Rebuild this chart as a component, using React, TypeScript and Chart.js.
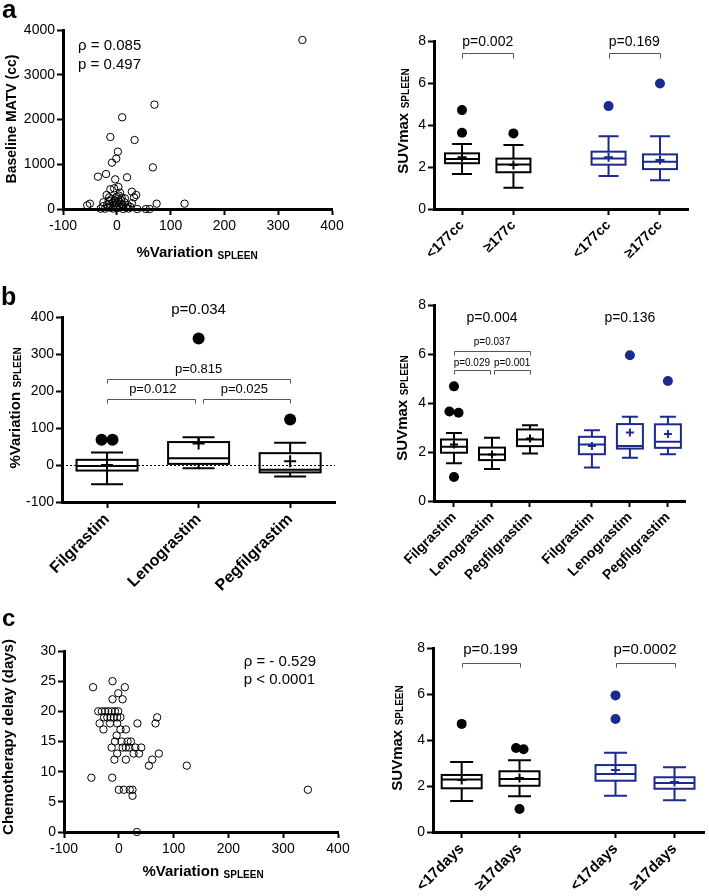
import React, { useEffect, useRef } from 'react';
import { Chart, registerables } from 'chart.js';
Chart.register(...registerables);

const FONT = "'Liberation Sans', Arial, Helvetica, sans-serif";
const BLUE = '#1b2a8e';
const GRAY = '#555555';

// ---------- Panel a, left: scatter %Variation vs baseline MATV ----------
const aVarX = [345, 70, 10, -12, 33, 2, -1, -9, 67, -35, -20, 19, -3, 3, -12, -5, 6, 28, 36, 32, -19, 15, 0,
  -50, -55, -30, -22, 74, 126, 38, 54, 61, 12,
  -25, -18, -15, -10, -8, -6, -4, -2, 0, 1, 3, 5, 7, 8, 10, 12, 14, 17, 20, 22, 25, -12, -16, -7, -3, 4, 9, -26, 28, -14];
const aMatvY = [3777, 2332, 2049, 1609, 1542, 1281, 1125, 1035, 931, 723, 782, 708, 663, 492, 440, 462, 365, 387, 313, 261, 313, 238, 275,
  119, 82, 7, 7, 119, 119, 0, 0, 0, 0,
  150, 100, 180, 220, 140, 90, 190, 60, 130, 20, 170, 80, 40, 200, 110, 60, 150, 30, 90, 10, 50, 30, 50, 10, 240, 300, 250, 60, 130, 260];

// ---------- Panel a, right: SUVmax by baseline MATV ----------
const aCats = ['<177cc', '≥177c', '<177cc', '≥177cc'];
const aPos = [1, 2, 3.85, 4.85];
const aMin = [1.67, 1.01, 1.57, 1.37];
const aQ1 = [2.18, 1.75, 2.11, 1.9];
const aMed = [2.38, 2.12, 2.4, 2.25];
const aQ3 = [2.65, 2.4, 2.73, 2.6];
const aMax = [3.1, 3.05, 3.46, 3.46];
const aMean = [2.47, 2.1, 2.47, 2.33];
const aOutGroup = [0, 0, 1, 2, 3];
const aOutDx = [0, 0, 0, 0, 0];
const aOutY = [4.71, 3.63, 3.6, 4.9, 5.98];
const aBlue = [false, false, true, true];

// ---------- Panel b, left: %Variation by G-CSF ----------
const bCats = ['Filgrastim', 'Lenograstim', 'Pegfilgrastim'];
const bPos = [1, 2, 3];
const bMin = [-52, -9, -31];
const bQ1 = [-15, 3, -20];
const bMed = [-3, 18, -13];
const bQ3 = [14, 62, 32];
const bMax = [34, 75, 60];
const bMean = [0, 58, 10];
const bOutGroup = [0, 0, 1, 2];
const bOutDx = [-0.06, 0.06, 0, 0];
const bOutY = [68, 68, 342, 123];

// ---------- Panel b, right: SUVmax by G-CSF ----------
const bRCats = ['Filgrastim', 'Lenograstim', 'Pegfilgrastim', 'Filgrastim', 'Lenograstim', 'Pegfilgrastim'];
const bRPos = [1, 2, 3, 4.63, 5.63, 6.63];
const bRMin = [1.54, 1.31, 1.94, 1.37, 1.77, 1.91];
const bRQ1 = [1.97, 1.67, 2.24, 1.91, 2.14, 2.17];
const bRMed = [2.21, 1.9, 2.51, 2.31, 2.25, 2.42];
const bRQ3 = [2.51, 2.18, 2.92, 2.62, 3.14, 3.13];
const bRMax = [2.78, 2.58, 3.09, 2.89, 3.44, 3.44];
const bRMean = [2.31, 1.9, 2.55, 2.25, 2.8, 2.73];
const bROutGroup = [0, 0, 0, 0, 4, 5];
const bROutDx = [0, -0.12, 0.12, 0, 0, 0];
const bROutY = [4.68, 3.65, 3.6, 0.98, 5.95, 4.9];
const bRBlue = [false, false, false, true, true, true];

// ---------- Panel c, left: scatter %Variation vs chemotherapy delay ----------
const cVarX = [-47, -11.5, 11, -1, -11.5, 7,
  -37.6, -31, -25, -19, -13, -7, -1,
  -27, -21, -15, -9, -3, 3, 70,
  -35, -16, -3, 34, 67,
  -28, 3, 13,
  -4,
  -7, 5, 16, 22,
  -13, 7, 13, 19, 30, 41,
  -3, 27, 37, 73,
  -8, 13, 61,
  55, 124,
  -50, -12,
  0, 9, 20, 25, 345,
  25,
  33];
const cDelayY = [24, 25, 24, 23, 22, 22,
  20, 20, 20, 20, 20, 20, 20,
  19, 19, 19, 19, 19, 19, 19,
  18, 18, 18, 18, 18,
  17, 17, 17,
  16,
  15, 15, 15, 15,
  14, 14, 14, 14, 14, 14,
  13, 13, 13, 13,
  12, 12, 12,
  11, 11,
  9, 9,
  7, 7, 7, 7, 7,
  6,
  0];

// ---------- Panel c, right: SUVmax by chemotherapy delay ----------
const cCats = ['<17days', '≥17days', '<17days', '≥17days'];
const cPos = [1, 2, 3.66, 4.68];
const cMin = [1.35, 1.55, 1.58, 1.38];
const cQ1 = [1.9, 2.01, 2.23, 1.88];
const cMed = [2.28, 2.3, 2.52, 2.13];
const cQ3 = [2.48, 2.64, 2.91, 2.38];
const cMax = [3.04, 3.12, 3.45, 2.81];
const cMean = [2.26, 2.35, 2.7, 2.17];
const cOutGroup = [0, 1, 1, 1, 2, 2];
const cOutDx = [0, -0.06, 0.07, 0, 0, 0];
const cOutY = [4.7, 3.65, 3.6, 1.0, 5.94, 4.91];
const cBlue = [false, false, true, true];

// ---------------------------------------------------------------------
function drawTitle(ctx: any, t: any) {
  ctx.save();
  ctx.translate(t.x, t.y);
  if (t.rot) ctx.rotate(-Math.PI / 2);
  ctx.fillStyle = '#000';
  ctx.textBaseline = 'alphabetic';
  ctx.textAlign = 'left';
  ctx.font = `bold ${t.size}px ${FONT}`;
  const w1 = ctx.measureText(t.main).width;
  let w2 = 0;
  const gap = t.sub ? t.size * 0.3 : 0;
  if (t.sub) {
    ctx.font = `bold ${t.subSize}px ${FONT}`;
    w2 = ctx.measureText(t.sub).width;
  }
  const start = -(w1 + gap + w2) / 2;
  ctx.font = `bold ${t.size}px ${FONT}`;
  ctx.fillText(t.main, start, 0);
  if (t.sub) {
    ctx.font = `bold ${t.subSize}px ${FONT}`;
    ctx.fillText(t.sub, start + w1 + gap, t.subDrop || 0);
  }
  ctx.restore();
}

const decor = {
  id: 'decor',
  afterDatasetsDraw(chart: any, _a: any, o: any) {
    const ctx = chart.ctx;
    const xs = chart.scales.x;
    const ys = chart.scales.y;
    const X = (v: number) => xs.getPixelForValue(v);
    const Y = (v: number) => ys.getPixelForValue(v);
    const ca = chart.chartArea;
    ctx.save();
    if (o.zeroLine) {
      ctx.strokeStyle = '#000';
      ctx.lineWidth = 1;
      ctx.setLineDash([2, 2]);
      const y0 = Math.round(Y(0)) + 0.5;
      ctx.beginPath();
      ctx.moveTo(ca.left, y0);
      ctx.lineTo(ca.right, y0);
      ctx.stroke();
      ctx.setLineDash([]);
    }
    (o.boxes || []).forEach((b: any) => {
      const cx = X(b.x);
      const hw = o.boxW / 2;
      const cw = o.capW / 2;
      const pw = o.plus / 2;
      ctx.strokeStyle = b.color;
      ctx.lineWidth = 2;
      ctx.beginPath();
      ctx.moveTo(cx, Y(b.max)); ctx.lineTo(cx, Y(b.q3));
      ctx.moveTo(cx, Y(b.q1)); ctx.lineTo(cx, Y(b.min));
      ctx.moveTo(cx - cw, Y(b.max)); ctx.lineTo(cx + cw, Y(b.max));
      ctx.moveTo(cx - cw, Y(b.min)); ctx.lineTo(cx + cw, Y(b.min));
      ctx.moveTo(cx - hw, Y(b.med)); ctx.lineTo(cx + hw, Y(b.med));
      ctx.stroke();
      ctx.strokeRect(cx - hw, Y(b.q3), 2 * hw, Y(b.q1) - Y(b.q3));
      ctx.beginPath();
      ctx.moveTo(cx - pw, Y(b.mean)); ctx.lineTo(cx + pw, Y(b.mean));
      ctx.moveTo(cx, Y(b.mean) - pw); ctx.lineTo(cx, Y(b.mean) + pw);
      ctx.stroke();
    });
    (o.brackets || []).forEach((br: any) => {
      ctx.strokeStyle = GRAY;
      ctx.lineWidth = 1;
      const x1 = Math.round(X(br.x1)) + 0.5;
      const x2 = Math.round(X(br.x2)) + 0.5;
      const y = Math.round(Y(br.y)) + 0.5;
      const yd = Math.round(Y(br.drop)) + 0.5;
      ctx.beginPath();
      ctx.moveTo(x1, yd); ctx.lineTo(x1, y); ctx.lineTo(x2, y); ctx.lineTo(x2, yd);
      ctx.stroke();
    });
    (o.texts || []).forEach((t: any) => {
      ctx.fillStyle = '#000';
      ctx.font = `${t.size}px ${FONT}`;
      ctx.textAlign = t.align || 'center';
      ctx.textBaseline = 'middle';
      ctx.fillText(t.text, X(t.x), Y(t.y));
    });
    (o.titles || []).forEach((t: any) => drawTitle(ctx, t));
    if (o.label) {
      ctx.fillStyle = '#000';
      ctx.font = `bold ${o.label.size}px ${FONT}`;
      ctx.textAlign = 'left';
      ctx.textBaseline = 'alphabetic';
      ctx.fillText(o.label.text, o.label.x, o.label.y);
    }
    ctx.restore();
  },
};

const tickFont = { family: FONT, size: 14 };

function axis(extra: any, fitKey: 'width' | 'height', fitVal: number) {
  return {
    type: 'linear',
    grid: { display: true, drawOnChartArea: false, drawTicks: true, tickLength: 6, tickWidth: 2, tickColor: '#000' },
    border: { display: true, color: '#000', width: 3 },
    afterFit: (s: any) => { s[fitKey] = fitVal; },
    ...extra,
    ticks: { color: '#000', font: tickFont, padding: 2, callback: (v: any) => String(v), ...(extra.ticks || {}) },
  };
}

type Frame = { w: number; h: number; L: number; T: number; R: number; B: number };

function baseOptions(f: Frame, xAxis: any, yAxis: any, decorOpts: any) {
  return {
    responsive: false,
    animation: false,
    devicePixelRatio: 1,
    layout: { padding: { left: 0, top: f.T, right: f.w - f.R, bottom: 0 } },
    scales: {
      x: axis(xAxis, 'height', f.h - f.B),
      y: axis(yAxis, 'width', f.L),
    },
    plugins: { legend: { display: false }, tooltip: { enabled: false }, decor: decorOpts },
  };
}

function boxes(pos: number[], mn: number[], q1: number[], md: number[], q3: number[], mx: number[], mean: number[], blue: boolean[]) {
  return pos.map((x, i) => ({ x, min: mn[i], q1: q1[i], med: md[i], q3: q3[i], max: mx[i], mean: mean[i], color: blue[i] ? BLUE : '#000' }));
}

function outlierDataset(pos: number[], group: number[], dx: number[], ys: number[], blue: boolean[], r: number) {
  return {
    data: ys.map((y, i) => ({ x: pos[group[i]] + dx[i], y })),
    pointRadius: r,
    pointBorderWidth: 0,
    pointBackgroundColor: group.map((g) => (blue[g] ? BLUE : '#000')),
    pointBorderColor: group.map((g) => (blue[g] ? BLUE : '#000')),
    showLine: false,
    clip: false,
  };
}

function catX(pos: number[], cats: string[], min: number, max: number, size: number) {
  return {
    min, max,
    afterBuildTicks: (s: any) => { s.ticks = pos.map((v) => ({ value: v })); },
    ticks: {
      autoSkip: false, minRotation: 45, maxRotation: 45, padding: 2,
      font: { family: FONT, size, weight: 'bold' },
      callback: (_v: any, i: number) => cats[i],
    },
  };
}

const suvY = { min: 0, max: 8, ticks: { stepSize: 2 } };

const panels: any[] = [
  // a left
  (() => {
    const f = { w: 360, h: 270, L: 63, T: 30, R: 332, B: 209 };
    return {
      left: 0, top: 0, f,
      config: {
        type: 'scatter',
        data: { datasets: [{ data: aVarX.map((x, i) => ({ x, y: aMatvY[i] })), pointRadius: 3.7, pointBorderWidth: 1, pointBorderColor: '#000', pointBackgroundColor: 'rgba(0,0,0,0)', clip: false }] },
        options: baseOptions(f, { min: -100, max: 400, ticks: { stepSize: 100, padding: 3 } }, { min: 0, max: 4000, ticks: { stepSize: 1000 } }, {
          texts: [
            { text: 'ρ = 0.085', x: -72, y: 3640, size: 15, align: 'left' },
            { text: 'p = 0.497', x: -72, y: 3220, size: 15, align: 'left' },
          ],
          titles: [
            { main: 'Baseline MATV (cc)', x: 16, y: 119, rot: true, size: 14 },
            { main: '%Variation', sub: 'SPLEEN', x: 197, y: 257, size: 15, subSize: 10, subDrop: 2 },
          ],
          label: { text: 'a', x: 2, y: 18, size: 26 },
        }),
      },
    };
  })(),
  // a right
  (() => {
    const f = { w: 349, h: 290, L: 74, T: 41, R: 328, B: 209 };
    return {
      left: 360, top: 0, f,
      config: {
        type: 'scatter',
        data: { datasets: [outlierDataset(aPos, aOutGroup, aOutDx, aOutY, aBlue, 5)] },
        options: baseOptions(f, catX(aPos, aCats, 0.455, 5.395, 14), suvY, {
          boxes: boxes(aPos, aMin, aQ1, aMed, aQ3, aMax, aMean, aBlue),
          boxW: 34, capW: 20, plus: 9,
          brackets: [
            { x1: 1, x2: 2, y: 7.44, drop: 7.2 },
            { x1: 3.85, x2: 4.85, y: 7.44, drop: 7.2 },
          ],
          texts: [
            { text: 'p=0.002', x: 1.5, y: 7.93, size: 14 },
            { text: 'p=0.169', x: 4.35, y: 7.93, size: 14 },
          ],
          titles: [{ main: 'SUVmax', sub: 'SPLEEN', x: 48, y: 121, rot: true, size: 15, subSize: 10, subDrop: 1 }],
        }),
      },
    };
  })(),
  // b left
  (() => {
    const f = { w: 360, h: 330, L: 62, T: 47, R: 335, B: 232 };
    return {
      left: 0, top: 270, f,
      config: {
        type: 'scatter',
        data: { datasets: [outlierDataset(bPos, bOutGroup, bOutDx, bOutY, [false, false, false], 6)] },
        options: baseOptions(f, catX(bPos, bCats, 0.508, 3.49, 16), { min: -100, max: 400, ticks: { stepSize: 100 } }, {
          zeroLine: true,
          boxes: boxes(bPos, bMin, bQ1, bMed, bQ3, bMax, bMean, [false, false, false]),
          boxW: 61, capW: 32, plus: 12,
          brackets: [
            { x1: 1, x2: 3, y: 233, drop: 221 },
            { x1: 1, x2: 1.96, y: 178, drop: 167 },
            { x1: 2.05, x2: 3, y: 178, drop: 167 },
          ],
          texts: [
            { text: 'p=0.034', x: 2, y: 419, size: 15 },
            { text: 'p=0.815', x: 2, y: 257, size: 13 },
            { text: 'p=0.012', x: 1.5, y: 203, size: 13 },
            { text: 'p=0.025', x: 2.5, y: 203, size: 13 },
          ],
          titles: [{ main: '%Variation', sub: 'SPLEEN', x: 20, y: 138, rot: true, size: 15, subSize: 10, subDrop: 1 }],
          label: { text: 'b', x: 1, y: 35, size: 25 },
        }),
      },
    };
  })(),
  // b right
  (() => {
    const f = { w: 349, h: 310, L: 74, T: 15, R: 325, B: 211 };
    return {
      left: 360, top: 290, f,
      config: {
        type: 'scatter',
        data: { datasets: [outlierDataset(bRPos, bROutGroup, bROutDx, bROutY, bRBlue, 5)] },
        options: baseOptions(f, catX(bRPos, bRCats, 0.474, 7.08, 14), suvY, {
          boxes: boxes(bRPos, bRMin, bRQ1, bRMed, bRQ3, bRMax, bRMean, bRBlue),
          boxW: 26, capW: 16, plus: 8,
          brackets: [
            { x1: 1, x2: 3, y: 6.13, drop: 5.96 },
            { x1: 1, x2: 1.95, y: 5.35, drop: 5.17 },
            { x1: 2.05, x2: 3, y: 5.35, drop: 5.17 },
          ],
          texts: [
            { text: 'p=0.004', x: 2, y: 7.47, size: 14 },
            { text: 'p=0.136', x: 5.63, y: 7.47, size: 14 },
            { text: 'p=0.037', x: 2, y: 6.5, size: 10 },
            { text: 'p=0.029', x: 1.47, y: 5.64, size: 10 },
            { text: 'p=0.001', x: 2.53, y: 5.64, size: 10 },
          ],
          titles: [{ main: 'SUVmax', sub: 'SPLEEN', x: 47, y: 118, rot: true, size: 15, subSize: 10, subDrop: 1 }],
        }),
      },
    };
  })(),
  // c left
  (() => {
    const f = { w: 360, h: 296, L: 64, T: 51, R: 338, B: 232 };
    return {
      left: 0, top: 600, f,
      config: {
        type: 'scatter',
        data: { datasets: [{ data: cVarX.map((x, i) => ({ x, y: cDelayY[i] })), pointRadius: 3.7, pointBorderWidth: 1, pointBorderColor: '#000', pointBackgroundColor: 'rgba(0,0,0,0)', clip: false }] },
        options: baseOptions(f, { min: -100, max: 400, ticks: { stepSize: 100, padding: 3 } }, { min: 0, max: 30, ticks: { stepSize: 5 } }, {
          texts: [
            { text: 'ρ = - 0.529', x: 228, y: 28.2, size: 15, align: 'left' },
            { text: 'p < 0.0001', x: 228, y: 25.2, size: 15, align: 'left' },
          ],
          titles: [
            { main: 'Chemotherapy delay (days)', x: 13, y: 137, rot: true, size: 15 },
            { main: '%Variation', sub: 'SPLEEN', x: 203, y: 276, size: 15, subSize: 10, subDrop: 2 },
          ],
          label: { text: 'c', x: 2, y: 26, size: 24 },
        }),
      },
    };
  })(),
  // c right
  (() => {
    const f = { w: 349, h: 296, L: 73, T: 48, R: 347, B: 232 };
    return {
      left: 360, top: 600, f,
      config: {
        type: 'scatter',
        data: { datasets: [outlierDataset(cPos, cOutGroup, cOutDx, cOutY, cBlue, 5)] },
        options: baseOptions(f, catX(cPos, cCats, 0.504, 5.19, 15), suvY, {
          boxes: boxes(cPos, cMin, cQ1, cMed, cQ3, cMax, cMean, cBlue),
          boxW: 40, capW: 23, plus: 9,
          brackets: [
            { x1: 1, x2: 2, y: 7.36, drop: 7.16 },
            { x1: 3.66, x2: 4.68, y: 7.36, drop: 7.16 },
          ],
          texts: [
            { text: 'p=0.199', x: 1.5, y: 7.91, size: 15 },
            { text: 'p=0.0002', x: 4.17, y: 7.91, size: 15 },
          ],
          titles: [{ main: 'SUVmax', sub: 'SPLEEN', x: 42, y: 138, rot: true, size: 15, subSize: 10, subDrop: 1 }],
        }),
      },
    };
  })(),
];

export default function App() {
  const refs = useRef<(HTMLCanvasElement | null)[]>([]);
  useEffect(() => {
    const charts = panels.map((p, i) => {
      const cv = refs.current[i] as HTMLCanvasElement;
      return new Chart(cv, { ...p.config, plugins: [decor] } as any);
    });
    return () => charts.forEach((c) => c.destroy());
  }, []);
  return (
    <div style={{ position: 'absolute', left: 0, top: 0, width: 709, height: 896, background: '#fff', overflow: 'hidden' }}>
      {panels.map((p, i) => (
        <canvas
          key={i}
          ref={(el) => { refs.current[i] = el; }}
          width={p.f.w}
          height={p.f.h}
          style={{ position: 'absolute', left: p.left, top: p.top, width: p.f.w, height: p.f.h }}
        />
      ))}
    </div>
  );
}
